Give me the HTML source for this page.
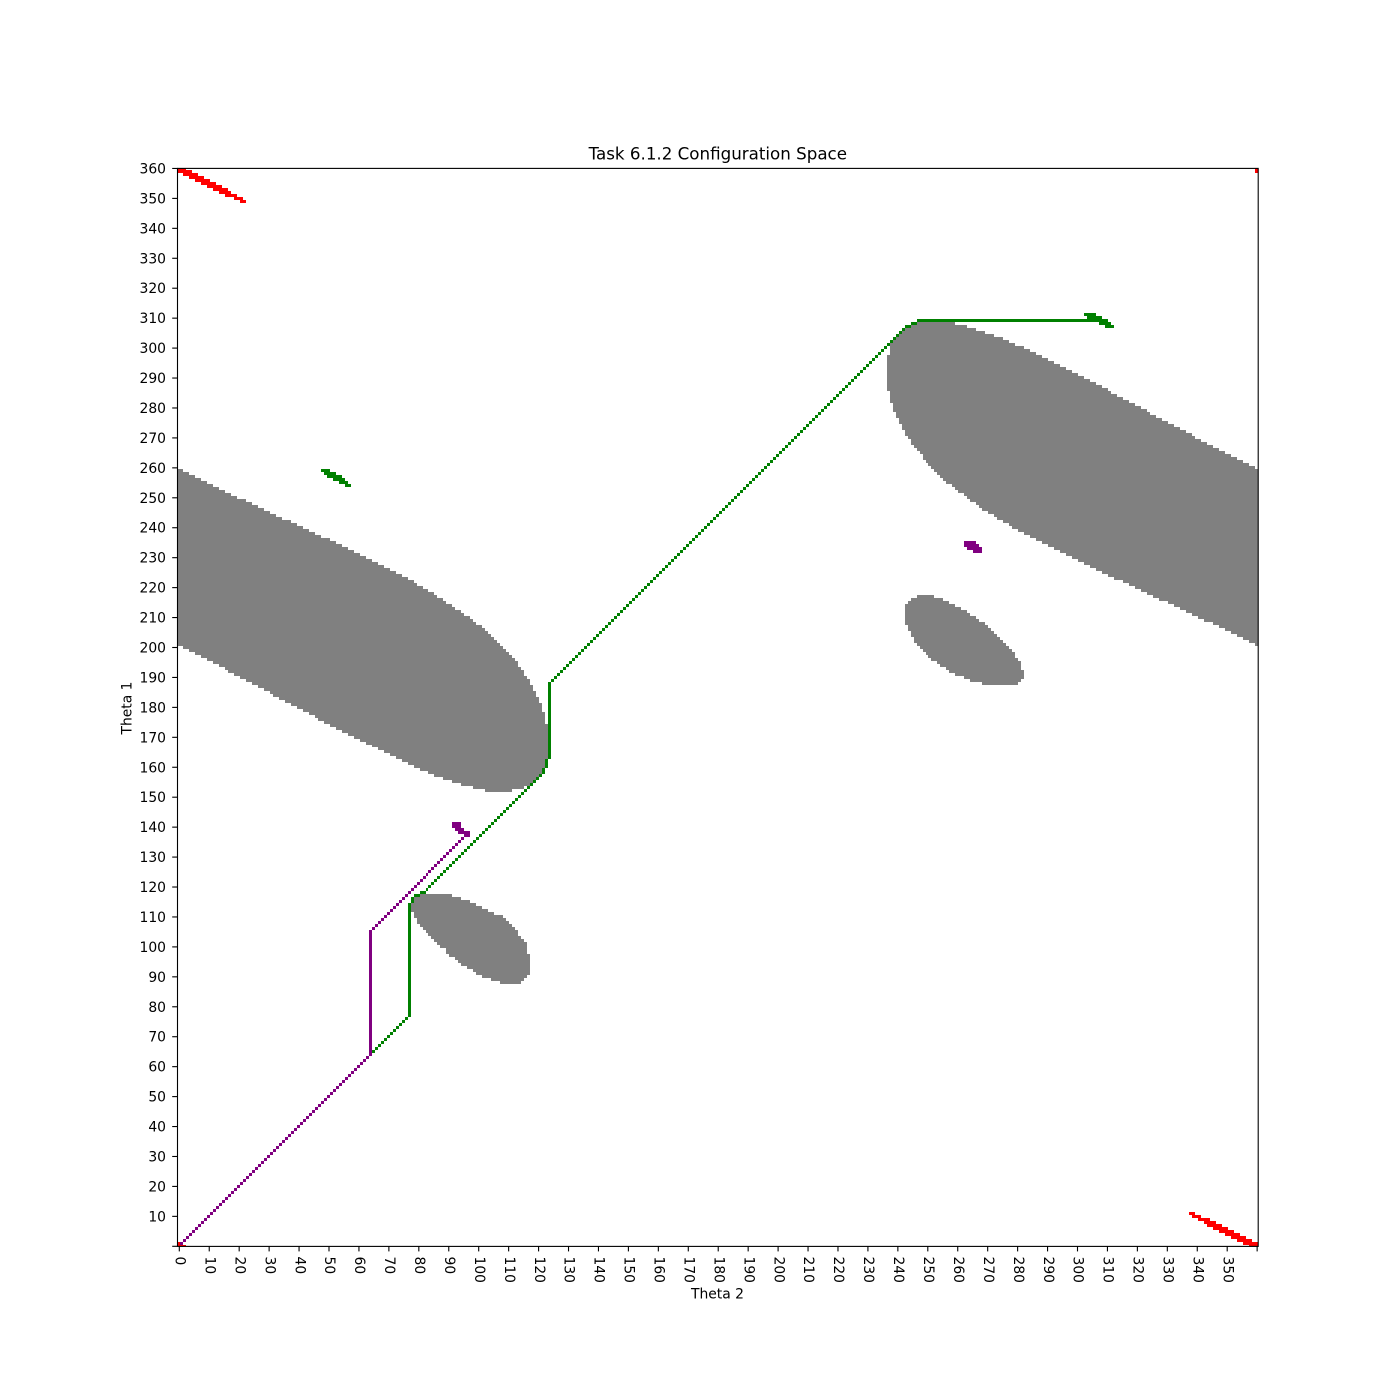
<!DOCTYPE html>
<html lang="en">
<head>
<meta charset="utf-8">
<title>Task 6.1.2 Configuration Space</title>
<style>
html,body{margin:0;padding:0;background:#fff;width:1400px;height:1400px;overflow:hidden}
svg{display:block}
text{font-family:"DejaVu Sans","Liberation Sans",sans-serif;fill:#000}
</style>
</head>
<body>
<svg id="chart" xmlns="http://www.w3.org/2000/svg" width="1400" height="1400" viewBox="0 0 1400 1400">
  <rect x="0" y="0" width="1400" height="1400" fill="#ffffff"/>
  <g id="marks"></g>
  <g id="axes"></g>
  <text x="717.8" y="159.5" font-size="16.7" text-anchor="middle">Task 6.1.2 Configuration Space</text>
  <text x="717.5" y="1298.5" font-size="13.89" text-anchor="middle">Theta 2</text>
  <text transform="translate(131.5,708) rotate(-90)" font-size="13.89" text-anchor="middle">Theta 1</text>
</svg>
<script>
// Heatmap rows: each entry is [theta1 row, first theta2 column, last theta2 column]
const obstacleLeftRows = [[152,103,111],[153,99,115],[154,95,117],[155,92,118],[156,89,119],[157,86,120],[158,84,121],[159,81,121],[160,79,122],[161,77,122],[162,75,122],[163,73,123],[164,71,123],[165,69,123],[166,67,123],[167,65,123],[168,63,123],[169,61,123],[170,59,123],[171,57,123],[172,55,123],[173,53,123],[174,51,123],[175,49,122],[176,47,122],[177,46,122],[178,44,122],[179,42,121],[180,40,121],[181,38,121],[182,36,120],[183,34,120],[184,32,119],[185,31,119],[186,29,118],[187,27,118],[188,25,117],[189,23,117],[190,21,116],[191,19,115],[192,17,115],[193,16,114],[194,14,113],[195,12,113],[196,10,112],[197,8,111],[198,6,110],[199,4,109],[200,2,108],[201,0,107],[202,0,106],[203,0,105],[204,0,104],[205,0,103],[206,0,102],[207,0,101],[208,0,99],[209,0,98],[210,0,97],[211,0,95],[212,0,94],[213,0,92],[214,0,91],[215,0,89],[216,0,88],[217,0,86],[218,0,85],[219,0,83],[220,0,81],[221,0,79],[222,0,78],[223,0,76],[224,0,74],[225,0,72],[226,0,70],[227,0,68],[228,0,66],[229,0,64],[230,0,62],[231,0,60],[232,0,58],[233,0,56],[234,0,54],[235,0,52],[236,0,50],[237,0,47],[238,0,45],[239,0,43],[240,0,41],[241,0,39],[242,0,37],[243,0,34],[244,0,32],[245,0,30],[246,0,28],[247,0,26],[248,0,24],[249,0,22],[250,0,19],[251,0,17],[252,0,15],[253,0,13],[254,0,11],[255,0,9],[256,0,7],[257,0,5],[258,0,3],[259,0,1]];
const obstacleRightRows = [[201,360,360],[202,358,360],[203,356,360],[204,354,360],[205,352,360],[206,350,360],[207,348,360],[208,346,360],[209,343,360],[210,341,360],[211,339,360],[212,337,360],[213,335,360],[214,333,360],[215,331,360],[216,328,360],[217,326,360],[218,324,360],[219,322,360],[220,320,360],[221,318,360],[222,316,360],[223,313,360],[224,311,360],[225,309,360],[226,307,360],[227,305,360],[228,303,360],[229,301,360],[230,299,360],[231,297,360],[232,295,360],[233,293,360],[234,291,360],[235,289,360],[236,287,360],[237,285,360],[238,283,360],[239,281,360],[240,279,360],[241,278,360],[242,276,360],[243,274,360],[244,273,360],[245,271,360],[246,269,360],[247,268,360],[248,267,360],[249,265,360],[250,264,360],[251,263,360],[252,261,360],[253,260,360],[254,259,360],[255,257,360],[256,256,360],[257,255,360],[258,254,360],[259,253,360],[260,252,359],[261,251,357],[262,250,355],[263,249,353],[264,249,351],[265,248,349],[266,247,347],[267,246,345],[268,245,343],[269,245,341],[270,244,339],[271,243,338],[272,243,336],[273,242,334],[274,242,332],[275,241,330],[276,241,328],[277,240,326],[278,240,324],[279,239,323],[280,239,321],[281,239,319],[282,238,317],[283,238,315],[284,238,313],[285,238,311],[286,237,310],[287,237,308],[288,237,306],[289,237,304],[290,237,302],[291,237,300],[292,237,298],[293,237,296],[294,237,294],[295,237,292],[296,237,290],[297,237,288],[298,238,286],[299,238,284],[300,238,282],[301,238,279],[302,239,277],[303,240,275],[304,241,272],[305,242,269],[306,243,266],[307,245,263],[308,247,259]];
const obstacleLowerRows = [[88,108,114],[89,105,115],[90,102,116],[91,100,117],[92,99,117],[93,97,117],[94,95,117],[95,94,117],[96,93,117],[97,91,117],[98,90,116],[99,90,116],[100,88,116],[101,87,116],[102,86,115],[103,85,114],[104,84,113],[105,83,113],[106,82,112],[107,81,111],[108,80,110],[109,80,109],[110,79,108],[111,79,105],[112,78,103],[113,78,101],[114,78,99],[115,79,97],[116,79,94],[117,81,91]];
const obstacleUpperRows = [[188,269,280],[189,265,281],[190,263,282],[191,260,282],[192,258,282],[193,257,281],[194,255,281],[195,254,281],[196,252,280],[197,251,279],[198,250,279],[199,249,278],[200,248,277],[201,247,276],[202,246,275],[203,246,274],[204,245,273],[205,245,272],[206,244,271],[207,244,270],[208,243,269],[209,243,267],[210,243,266],[211,243,264],[212,243,263],[213,243,261],[214,243,259],[215,244,257],[216,245,255],[217,247,252]];
const redStartBottomRows = [[0,0,2],[1,0,1]];
const redTopLeftRows = [[349,21,22],[350,19,21],[351,16,19],[352,14,17],[353,12,16],[354,10,14],[355,8,12],[356,6,10],[357,4,8],[358,2,6],[359,0,4],[360,0,2]];
const redTopRightRows = [[359,360,360],[360,360,360]];
const redBottomRightRows = [[0,358,360],[1,356,360],[2,354,358],[3,352,356],[4,350,354],[5,348,352],[6,346,350],[7,344,348],[8,343,346],[9,341,344],[10,339,341],[11,338,339]];
const greenMarkerLeftRows = [[254,56,57],[255,54,56],[256,52,55],[257,50,54],[258,49,52],[259,48,50]];
const greenMarkerRightRows = [[307,310,312],[308,308,311],[310,304,308],[311,303,306]];
const purpleMarkerLeftRows = [[137,96,97],[138,94,97],[139,93,95],[140,92,94],[141,92,94]];
const purpleMarkerRightRows = [[232,266,268],[233,264,268],[234,263,267],[235,263,266]];
// Path waypoints, in degrees
const greenPathTheta2 = [65,77,77,78,78,79,80,81,82,83,121,122,122,123,123,124,124,242,243,244,245,246,247,310];
const greenPathTheta1 = [65,77,114,115,116,117,117,118,118,119,157,158,159,160,162,163,188,306,307,307,308,308,309,309];
const purplePathTheta2 = [1,64,64,95];
const purplePathTheta1 = [1,64,105,136];
// Tick values and printed labels
const xTickValues = [0,10,20,30,40,50,60,70,80,90,100,110,120,130,140,150,160,170,180,190,200,210,220,230,240,250,260,270,280,290,300,310,320,330,340,350,360];
const xTickLabels = ["0","10","20","30","40","50","60","70","80","90","100","110","120","130","140","150","160","170","180","190","200","210","220","230","240","250","260","270","280","290","300","310","320","330","340","350",""];
const yTickValues = [0,10,20,30,40,50,60,70,80,90,100,110,120,130,140,150,160,170,180,190,200,210,220,230,240,250,260,270,280,290,300,310,320,330,340,350,360];
const yTickLabels = ["","10","20","30","40","50","60","70","80","90","100","110","120","130","140","150","160","170","180","190","200","210","220","230","240","250","260","270","280","290","300","310","320","330","340","350","360"];

const SVG_NS = "http://www.w3.org/2000/svg";
const PLOT_RIGHT = 1258, PLOT_TOP = 168, PLOT_BOTTOM = 1246, UNIT = 2.994;
const marksLayer = document.getElementById("marks");
const axesLayer = document.getElementById("axes");

function xScale(theta2) { return 179.3 + theta2 * UNIT; }
function yScale(theta1) { return PLOT_BOTTOM - theta1 * UNIT; }
function columnEdge(col) { return Math.min(PLOT_RIGHT, Math.round(xScale(col) - 2.3)); }
function rowEdge(row) { return Math.max(PLOT_TOP, Math.min(PLOT_BOTTOM, Math.round(yScale(row - 0.5)))); }

function drawSpan(row, first, last, fill, group) {
  const r = document.createElementNS(SVG_NS, "rect");
  
  
  const x0 = columnEdge(first), x1 = columnEdge(last + 1);
  const y0 = rowEdge(row + 1), y1 = rowEdge(row);
  r.setAttribute("x", x0);
  r.setAttribute("y", y0);
  r.setAttribute("width", x1 - x0);
  r.setAttribute("height", y1 - y0);
  r.setAttribute("fill", fill);
  r.setAttribute("shape-rendering", "crispEdges");
  group.appendChild(r);
}

function makeGroup(name) {
  const g = document.createElementNS(SVG_NS, "g");
  
  
  marksLayer.appendChild(g);
  return g;
}

function drawRows(rows, fill, name) {
  const g = makeGroup(name);
  rows.forEach(function (s) { drawSpan(s[0], s[1], s[2], fill, g); });
}

function drawPath(theta2s, theta1s, fill, name) {
  const g = makeGroup(name);
  for (let i = 0; i < theta2s.length - 1; i++) {
    const dc = theta2s[i + 1] - theta2s[i], dr = theta1s[i + 1] - theta1s[i];
    const steps = Math.max(Math.abs(dc), Math.abs(dr));
    for (let k = 0; k <= steps; k++) {
      const c = Math.round(theta2s[i] + (steps ? dc * k / steps : 0));
      const r = Math.round(theta1s[i] + (steps ? dr * k / steps : 0));
      drawSpan(r, c, c, fill, g);
    }
  }
}

drawRows(obstacleLeftRows, "#808080", "obstacle-left-band");
drawRows(obstacleRightRows, "#808080", "obstacle-right-band");
drawRows(obstacleLowerRows, "#808080", "obstacle-lower-ellipse");
drawRows(obstacleUpperRows, "#808080", "obstacle-upper-ellipse");
drawRows(redStartBottomRows, "#ff0000", "red-region-bottom-left");
drawRows(redTopLeftRows, "#ff0000", "red-region-top-left");
drawRows(redTopRightRows, "#ff0000", "red-region-top-right");
drawRows(redBottomRightRows, "#ff0000", "red-region-bottom-right");
drawRows(greenMarkerLeftRows, "#008000", "green-region-left");
drawRows(greenMarkerRightRows, "#008000", "green-region-right");
drawPath(greenPathTheta2, greenPathTheta1, "#008000", "green-path");
drawRows(purpleMarkerLeftRows, "#800080", "purple-region-left");
drawRows(purpleMarkerRightRows, "#800080", "purple-region-right");
drawPath(purplePathTheta2, purplePathTheta1, "#800080", "purple-path");

const frame = document.createElementNS(SVG_NS, "rect");


frame.setAttribute("x", 177.5);
frame.setAttribute("y", 168.4);
frame.setAttribute("width", 1080.7);
frame.setAttribute("height", 1078);
frame.setAttribute("fill", "none");
frame.setAttribute("stroke", "#000");
frame.setAttribute("stroke-width", "1.1");
axesLayer.appendChild(frame);

xTickValues.forEach(function (v, i) {
  const px = xScale(v);
  const t = document.createElementNS(SVG_NS, "line");
  
  
  t.setAttribute("x1", px);
  t.setAttribute("x2", px);
  t.setAttribute("y1", PLOT_BOTTOM);
  t.setAttribute("y2", PLOT_BOTTOM + 5.4);
  t.setAttribute("stroke", "#000");
  t.setAttribute("stroke-width", "1.1");
  axesLayer.appendChild(t);
  if (xTickLabels[i]) {
    const l = document.createElementNS(SVG_NS, "text");
    
    
    l.setAttribute("transform", "translate(" + (px - 3.8) + ",1256.5) rotate(90)");
    l.setAttribute("font-size", "13.89");
    l.textContent = xTickLabels[i];
    axesLayer.appendChild(l);
  }
});

yTickValues.forEach(function (v, i) {
  const py = yScale(v) + 0.3;
  const t = document.createElementNS(SVG_NS, "line");
  
  
  t.setAttribute("x1", 172.2);
  t.setAttribute("x2", 177.5);
  t.setAttribute("y1", py);
  t.setAttribute("y2", py);
  t.setAttribute("stroke", "#000");
  t.setAttribute("stroke-width", "1.1");
  axesLayer.appendChild(t);
  if (yTickLabels[i]) {
    const l = document.createElementNS(SVG_NS, "text");
    
    
    l.setAttribute("x", 166);
    l.setAttribute("y", py + 5);
    l.setAttribute("font-size", "13.89");
    l.setAttribute("text-anchor", "end");
    l.textContent = yTickLabels[i];
    axesLayer.appendChild(l);
  }
});
</script>
</body>
</html>
